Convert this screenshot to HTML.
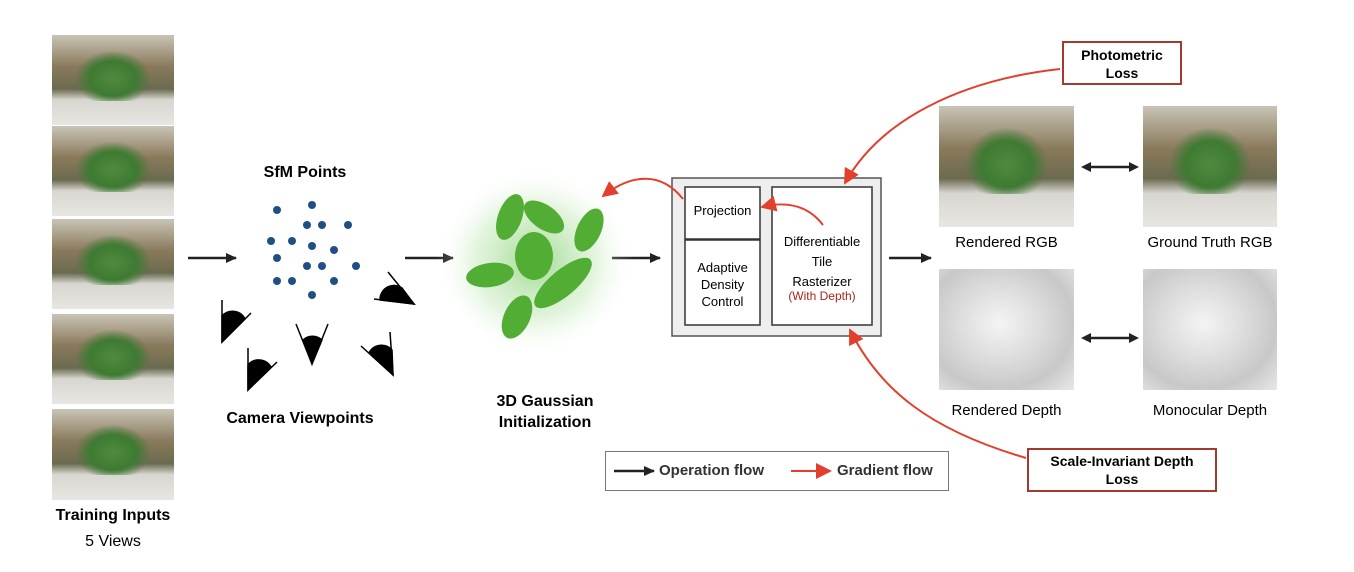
<!DOCTYPE html>
<html><head><meta charset="utf-8"><style>
body{margin:0;width:1354px;height:572px;background:#fff;font-family:"Liberation Sans",sans-serif;position:relative;overflow:hidden}
.t{position:absolute;text-align:center;white-space:nowrap}
.b{font-weight:bold}
.ph{position:absolute;overflow:hidden;background:linear-gradient(#c9c4b6 0%,#8a7a5c 35%,#6b6a4f 60%,#d8d6d0 72%,#e8e6e2 100%)}
.ph::before{content:"";position:absolute;left:20%;top:18%;width:60%;height:55%;border-radius:50% 50% 30% 30%;background:radial-gradient(ellipse at 50% 55%,#4f8a3e 0%,#3f7a33 45%,rgba(70,110,60,0) 72%)}
.dp{position:absolute;background:radial-gradient(ellipse at 45% 45%,#f4f4f4 0%,#dcdcdc 40%,#c8c8c8 70%,#e8e8e8 100%)}
</style></head><body>
<div class="ph" style="left:52px;top:35px;width:122px;height:90px"></div>
<div class="ph" style="left:52px;top:126px;width:122px;height:90px"></div>
<div class="ph" style="left:52px;top:219px;width:122px;height:90px"></div>
<div class="ph" style="left:52px;top:314px;width:122px;height:90px"></div>
<div class="ph" style="left:52px;top:409px;width:122px;height:91px"></div>
<div class="t b" style="left:43px;top:507px;width:140px;font-size:16px">Training Inputs</div>
<div class="t" style="left:43px;top:533px;width:140px;font-size:16px">5 Views</div>

<div class="ph" style="left:939px;top:106px;width:135px;height:121px"></div>
<div class="ph" style="left:1143px;top:106px;width:134px;height:121px"></div>
<div class="dp" style="left:939px;top:269px;width:135px;height:121px"></div>
<div class="dp" style="left:1143px;top:269px;width:134px;height:121px"></div>
<div class="t" style="left:930px;top:234px;width:153px;font-size:15px">Rendered RGB</div>
<div class="t" style="left:1130px;top:234px;width:160px;font-size:15px">Ground Truth RGB</div>
<div class="t" style="left:930px;top:402px;width:153px;font-size:15px">Rendered Depth</div>
<div class="t" style="left:1130px;top:402px;width:160px;font-size:15px">Monocular Depth</div>

<div class="t b" style="left:240px;top:164px;width:130px;font-size:16px">SfM Points</div>
<div class="t b" style="left:210px;top:410px;width:180px;font-size:16px">Camera Viewpoints</div>
<div class="t b" style="left:470px;top:391px;width:150px;font-size:16px;line-height:21px">3D Gaussian<br>Initialization</div>

<svg width="1354" height="572" style="position:absolute;left:0;top:0">
<defs>
<marker id="ak" markerWidth="11" markerHeight="10" refX="10" refY="5" orient="auto" markerUnits="userSpaceOnUse"><path d="M0,0L11,5L0,10z" fill="#222"/></marker>
<marker id="ar" markerWidth="16" markerHeight="16" refX="14" refY="8" orient="auto" markerUnits="userSpaceOnUse"><path d="M0,0L16,8L0,16z" fill="#e2402c"/></marker>
<marker id="as" markerWidth="10" markerHeight="10" refX="1" refY="5" orient="auto-start-reverse" markerUnits="userSpaceOnUse"><path d="M0,0L10,5L0,10z" fill="#222"/></marker>
<radialGradient id="gl"><stop offset="0" stop-color="#7fcf6a" stop-opacity=".75"/><stop offset="0.6" stop-color="#b8e4ad" stop-opacity=".4"/><stop offset="1" stop-color="#fff" stop-opacity="0"/></radialGradient>
</defs>
<g stroke="#222" stroke-width="2.5">
<line x1="188" y1="258" x2="236" y2="258" marker-end="url(#ak)"/>
<line x1="405" y1="258" x2="453" y2="258" marker-end="url(#ak)"/>
<line x1="612" y1="258" x2="660" y2="258" marker-end="url(#ak)"/>
<line x1="889" y1="258" x2="931" y2="258" marker-end="url(#ak)"/>
<line x1="1090" y1="167" x2="1130" y2="167" marker-start="url(#as)" marker-end="url(#as)"/>
<line x1="1090" y1="338" x2="1130" y2="338" marker-start="url(#as)" marker-end="url(#as)"/>
</g>
<g fill="#1f4f85">
<circle cx="277" cy="210" r="4"/><circle cx="312" cy="205" r="4"/><circle cx="307" cy="225" r="4"/><circle cx="322" cy="225" r="4"/><circle cx="348" cy="225" r="4"/>
<circle cx="271" cy="241" r="4"/><circle cx="292" cy="241" r="4"/><circle cx="312" cy="246" r="4"/><circle cx="334" cy="250" r="4"/>
<circle cx="277" cy="258" r="4"/><circle cx="307" cy="266" r="4"/><circle cx="322" cy="266" r="4"/><circle cx="356" cy="266" r="4"/>
<circle cx="277" cy="281" r="4"/><circle cx="292" cy="281" r="4"/><circle cx="334" cy="281" r="4"/><circle cx="312" cy="295" r="4"/>
</g>
<g fill="#000" stroke="#000" stroke-width="1.5">
<path d="M222,300L222,342L251,313" fill="none"/><path d="M222,342L245,319A14,14 0 0 0 222,316z"/>
<path d="M248,348L248,390L277,362" fill="none"/><path d="M248,390L271,367A14,14 0 0 0 248,365z"/>
<path d="M296,324L312,364L328,324" fill="none"/><path d="M312,364L303,340A14,14 0 0 1 322,340z"/>
<path d="M390,332L393,375L361,346" fill="none"/><path d="M393,375L369,353A14,14 0 0 1 392,350z"/>
<path d="M388,272L414,304L374,299" fill="none"/><path d="M414,304L380,300A14,14 0 0 1 402,288z"/>
</g>
<ellipse cx="535" cy="262" rx="100" ry="95" fill="url(#gl)"/>
<g fill="#52ad34">
<ellipse cx="510" cy="217" rx="12" ry="24" transform="rotate(20 510 217)"/>
<ellipse cx="544" cy="217" rx="23" ry="12" transform="rotate(35 544 217)"/>
<ellipse cx="589" cy="230" rx="12" ry="23" transform="rotate(25 589 230)"/>
<ellipse cx="534" cy="256" rx="19" ry="24"/>
<ellipse cx="490" cy="275" rx="24" ry="12" transform="rotate(-8 490 275)"/>
<ellipse cx="563" cy="283" rx="13" ry="36" transform="rotate(50 563 283)"/>
<ellipse cx="517" cy="317" rx="13" ry="23" transform="rotate(25 517 317)"/>
</g>
<rect x="672" y="178" width="209" height="158" fill="#eee" stroke="#555" stroke-width="1.5"/>
<rect x="685" y="187" width="75" height="52" fill="#fff" stroke="#333" stroke-width="1.5"/>
<rect x="685" y="240" width="75" height="85" fill="#fff" stroke="#333" stroke-width="1.5"/>
<rect x="772" y="187" width="100" height="138" fill="#fff" stroke="#333" stroke-width="1.5"/>
<g stroke="#e2402c" stroke-width="2" fill="none">
<path d="M1060,69C960,80 880,120 845,183" marker-end="url(#ar)"/>
<path d="M683,199C660,170 630,175 603,196" marker-end="url(#ar)"/>
<path d="M823,225C810,208 790,200 762,207" marker-end="url(#ar)"/>
<path d="M1026,458C930,430 880,390 850,330" marker-end="url(#ar)"/>
<path d="M791,471L830,471" marker-end="url(#ar)"/>
</g>
<line x1="614" y1="471" x2="654" y2="471" stroke="#222" stroke-width="2.5" marker-end="url(#ak)"/>
</svg>
<div class="t" style="left:685px;top:203px;width:75px;font-size:13px">Projection</div>
<div class="t" style="left:685px;top:259px;width:75px;font-size:13px;line-height:17px">Adaptive<br>Density<br>Control</div>
<div class="t" style="left:772px;top:232px;width:100px;font-size:13px;line-height:20px">Differentiable<br>Tile<br>Rasterizer</div>
<div class="t" style="left:772px;top:289px;width:100px;font-size:12px;color:#a3271b">(With Depth)</div>

<div style="position:absolute;left:1062px;top:41px;width:120px;height:44px;border:2px solid #a33a30;box-sizing:border-box"></div>
<div class="t b" style="left:1062px;top:46px;width:120px;font-size:14px;line-height:18px">Photometric<br>Loss</div>
<div style="position:absolute;left:1027px;top:448px;width:190px;height:44px;border:2px solid #a33a30;box-sizing:border-box"></div>
<div class="t b" style="left:1027px;top:452px;width:190px;font-size:14px;line-height:18px">Scale-Invariant Depth<br>Loss</div>

<div style="position:absolute;left:605px;top:451px;width:344px;height:40px;border:1.5px solid #777;box-sizing:border-box"></div>
<div class="t b" style="left:659px;top:462px;font-size:15px;color:#333">Operation flow</div>
<div class="t b" style="left:837px;top:462px;font-size:15px;color:#333">Gradient flow</div>
</body></html>
